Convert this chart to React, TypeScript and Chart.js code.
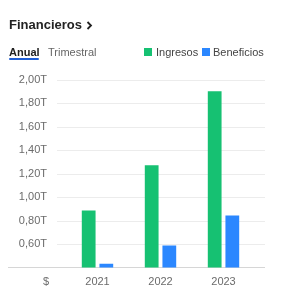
import React, { useEffect, useRef } from "react";
import { Chart, registerables } from "chart.js";

Chart.register(...registerables);

const years = ["2021", "2022", "2023"];
const ingresos = [0.885, 1.272, 1.905];
const beneficios = [0.432, 0.588, 0.843];
const yMin = 0.4;
const yMax = 2.0;
const yStep = 0.2;
const seriesNames = ["Ingresos", "Beneficios"];
const seriesColors = ["#16c172", "#2b87ff"];

const FONT = "'Liberation Sans', Arial, sans-serif";

const gridPlugin = {
  id: "extGrid",
  beforeDatasetsDraw(chart: any) {
    const { ctx } = chart;
    const y = chart.scales.y;
    ctx.save();
    y.ticks.forEach((t: any) => {
      const py = Math.round(y.getPixelForValue(t.value)) + 0.5;
      const isBase = Math.abs(t.value - yMin) < 1e-6;
      ctx.strokeStyle = isBase ? "#d6d6d6" : "#ececec";
      ctx.lineWidth = 1;
      ctx.beginPath();
      ctx.moveTo(isBase ? 8 : 57, py);
      ctx.lineTo(265, py);
      ctx.stroke();
    });
    ctx.restore();
  },
};

export default function App() {
  const ref = useRef<HTMLCanvasElement | null>(null);
  useEffect(() => {
    document.body.style.margin = "0";
    const chart = new Chart(ref.current as HTMLCanvasElement, {
      type: "bar",
      data: {
        labels: years,
        datasets: [
          { label: seriesNames[0], data: ingresos, backgroundColor: seriesColors[0] },
          { label: seriesNames[1], data: beneficios, backgroundColor: seriesColors[1] },
        ],
      },
      options: {
        animation: false,
        responsive: false,
        maintainAspectRatio: false,
        layout: { padding: { top: 80, right: 45, bottom: 0, left: 0 } },
        datasets: { bar: { categoryPercentage: 0.56, barPercentage: 0.78 } },
        plugins: { legend: { display: false }, tooltip: { enabled: false } },
        scales: {
          x: {
            grid: { display: false, drawTicks: false },
            border: { display: false },
            ticks: {
              padding: 8,
              color: "#6b6b6b",
              font: { family: FONT, size: 11 },
            },
            afterFit(s: any) {
              s.height = 25;
            },
          },
          y: {
            min: yMin,
            max: yMax,
            grid: { display: false, drawTicks: false },
            border: { display: false },
            ticks: {
              stepSize: yStep,
              padding: 19,
              color: "#6b6b6b",
              font: { family: FONT, size: 11 },
              callback: (v: any) =>
                Math.abs(v - yMin) < 1e-6 ? "" : Number(v).toFixed(2).replace(".", ",") + "T",
            },
            afterFit(s: any) {
              s.width = 66;
            },
          },
        },
      },
      plugins: [gridPlugin],
    });
    return () => chart.destroy();
  }, []);

  const txt = (style: React.CSSProperties, s: string) => (
    <span style={{ position: "absolute", fontFamily: FONT, whiteSpace: "nowrap", lineHeight: "16px", ...style }}>{s}</span>
  );

  return (
    <div style={{ position: "relative", width: 300, height: 293, overflow: "hidden", background: "#fff" }}>
      <canvas ref={ref} width={300} height={293} style={{ position: "absolute", left: 0, top: 0 }} />
      {txt({ left: 9, top: 17, fontSize: 13, fontWeight: 700, color: "#222" }, "Financieros")}
      <svg style={{ position: "absolute", left: 86, top: 21 }} width="7" height="9" viewBox="0 0 7 9">
        <path d="M1.5 1 L5 4.5 L1.5 8" fill="none" stroke="#222" strokeWidth="1.8" />
      </svg>
      {txt({ left: 9, top: 44, fontSize: 11, fontWeight: 700, color: "#222" }, "Anual")}
      <div style={{ position: "absolute", left: 9, top: 58, width: 30, height: 2, borderRadius: 1, background: "#1f5fd6" }} />
      {txt({ left: 48, top: 44, fontSize: 11, color: "#666" }, "Trimestral")}
      <div style={{ position: "absolute", left: 144, top: 48, width: 8, height: 8, background: seriesColors[0] }} />
      {txt({ left: 156, top: 44, fontSize: 11, color: "#444" }, seriesNames[0])}
      <div style={{ position: "absolute", left: 202, top: 48, width: 8, height: 8, background: seriesColors[1] }} />
      {txt({ left: 213, top: 44, fontSize: 11, color: "#444" }, seriesNames[1])}
      {txt({ left: 43, top: 273, fontSize: 11, color: "#6b6b6b" }, "$")}
    </div>
  );
}
